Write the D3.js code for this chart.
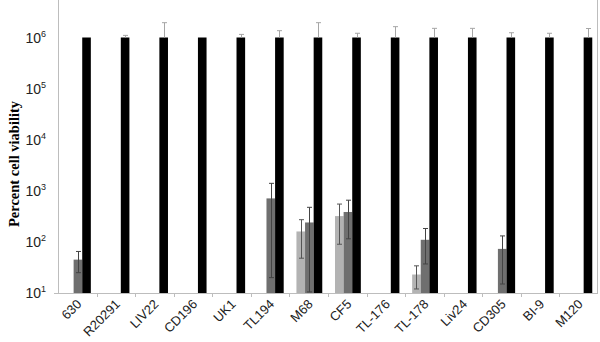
<!DOCTYPE html>
<html>
<head>
<meta charset="utf-8">
<script src="https://cdn.jsdelivr.net/npm/d3@7"></script>
<style>
  body { margin: 0; background: #fff; }
  svg { display: block; }
</style>
</head>
<body>
<svg id="chart" width="600" height="342"></svg>
<script>
// cell lines along the x axis
const categories = ['630', 'R20291', 'LIV22', 'CD196', 'UK1', 'TL194', 'M68', 'CF5',
  'TL-176', 'TL-178', 'Liv24', 'CD305', 'BI-9', 'M120'];

// three series per cell line, null where there is no bar
const lightValues = [null, null, null, null, null, null, 160, 320, null, 23, null, null, null, null];
const lightErrors = [null, null, null, null, null, null, 112, 230, null, 11, null, null, null, null];

const darkValues = [45, null, null, null, null, 710, 240, 385, null, 110, null, 73, null, null];
const darkErrors = [20, null, null, null, null, 690, 235, 270, null, 73, null, 58, null, null];

const blackValues = [1e6, 1e6, 1e6, 1e6, 1e6, 1e6, 1e6, 1e6, 1e6, 1e6, 1e6, 1e6, 1e6, 1e6];
const blackErrors = [0, 0.1e6, 0.95e6, 0, 0.15e6, 0.36e6, 0.95e6, 0.21e6, 0.63e6, 0.51e6, 0.51e6, 0.24e6, 0.21e6, 0.5e6];

const yTicks = [10, 100, 1e3, 1e4, 1e5, 1e6];

const series = [
  { key: 's1', values: lightValues, errors: lightErrors, fill: '#b3b3b3', err: '#555' },
  { key: 's2', values: darkValues, errors: darkErrors, fill: '#6f6f6f', err: '#444' },
  { key: 's3', values: blackValues, errors: blackErrors, fill: '#000', err: '#a6a6a6' }
];

const svg = d3.select('#chart');
const left = 58, right = 598, bottom = 293;
const decade = 51.1;

const x = d3.scaleBand().domain(categories).range([left, right]).padding(0);
const x1 = d3.scaleBand().domain(series.map(s => s.key)).range([0, x.bandwidth()])
  .paddingInner(0).paddingOuter(0.74).align(0.55);
const y = d3.scaleLog().domain([10, 1e7]).range([bottom, bottom - 6 * decade]);

// flatten to one record per bar
function rows(s) {
  return categories.map((c, i) => ({ cat: c, key: s.key, v: s.values[i], e: s.errors[i] }))
    .filter(d => d.v != null);
}

function drawBars(s) {
  svg.append('g').selectAll('rect')
    .data(rows(s))
    .join('rect')
      .attr('x', d => x(d.cat) + x1(d.key))
      .attr('y', d => y(d.v))
      .attr('width', x1.bandwidth())
      .attr('height', d => bottom - y(d.v))
      .attr('fill', s.fill);
}

function drawErrors(s, upperOnly) {
  const g = svg.append('g').attr('stroke', s.err).attr('stroke-width', 1);
  rows(s).filter(d => d.e > 0).forEach(d => {
    const cx = Math.round(x(d.cat) + x1(d.key) + x1.bandwidth() / 2) + 0.5;
    const top = y(d.v + d.e);
    const lo = upperOnly ? y(d.v) : y(Math.max(d.v - d.e, 10.5));
    g.append('line').attr('x1', cx).attr('x2', cx).attr('y1', top).attr('y2', lo);
    g.append('line').attr('x1', cx - 2.5).attr('x2', cx + 2.5).attr('y1', top).attr('y2', top);
    if (!upperOnly) g.append('line').attr('x1', cx - 2.5).attr('x2', cx + 2.5).attr('y1', lo).attr('y2', lo);
  });
}

drawBars(series[0]);
drawBars(series[1]);
drawErrors(series[0], false);
drawErrors(series[1], false);
drawBars(series[2]);
drawErrors(series[2], true);

// axes
const axisColor = '#bdbdbd';
const xAxis = svg.append('g')
  .attr('transform', `translate(0,${bottom})`)
  .call(d3.axisBottom(x).tickSize(0).tickFormat(''));
xAxis.select('.domain').attr('stroke', axisColor).attr('d', `M${left},0.5H${right}`);

svg.append('g').attr('stroke', axisColor)
  .selectAll('line')
  .data(categories.slice(1))
  .join('line')
    .attr('x1', d => Math.round(x(d)) + 0.5)
    .attr('x2', d => Math.round(x(d)) + 0.5)
    .attr('y1', bottom)
    .attr('y2', bottom + 4);

svg.append('line').attr('stroke', axisColor)
  .attr('x1', left + 0.5).attr('x2', left + 0.5).attr('y1', 0).attr('y2', bottom);
svg.append('line').attr('stroke', axisColor)
  .attr('x1', right - 0.5).attr('x2', right - 0.5).attr('y1', 0).attr('y2', bottom);
svg.append('line').attr('stroke', axisColor)
  .attr('x1', left - 4).attr('x2', left).attr('y1', bottom + 0.5).attr('y2', bottom + 0.5);

// y tick labels as 10 with superscript exponent
const yl = svg.append('g')
  .attr('font-family', 'Liberation Sans, Arial, sans-serif')
  .attr('fill', '#222');
yTicks.forEach(t => {
  const txt = yl.append('text')
    .attr('x', 46).attr('y', y(t) + 5)
    .attr('text-anchor', 'end');
  txt.append('tspan').attr('font-size', 14).text('10');
  txt.append('tspan').attr('font-size', 9).attr('dy', -6).text(Math.round(Math.log10(t)));
});

// x category labels rotated
svg.append('g')
  .attr('font-family', 'Liberation Sans, Arial, sans-serif')
  .attr('font-size', 13)
  .attr('fill', '#222')
  .selectAll('text')
  .data(categories)
  .join('text')
    .attr('text-anchor', 'end')
    .attr('transform', d => `translate(${x(d) + x.bandwidth() / 2 + 5},${bottom + 12}) rotate(-45)`)
    .text(d => d);

svg.append('text')
  .attr('transform', `translate(19,164) rotate(-90)`)
  .attr('text-anchor', 'middle')
  .attr('font-family', 'Liberation Serif, Times New Roman, serif')
  .attr('font-weight', 'bold')
  .attr('font-size', 14.5)
  .attr('fill', '#000')
  .text('Percent cell viability');
</script>
</body>
</html>
